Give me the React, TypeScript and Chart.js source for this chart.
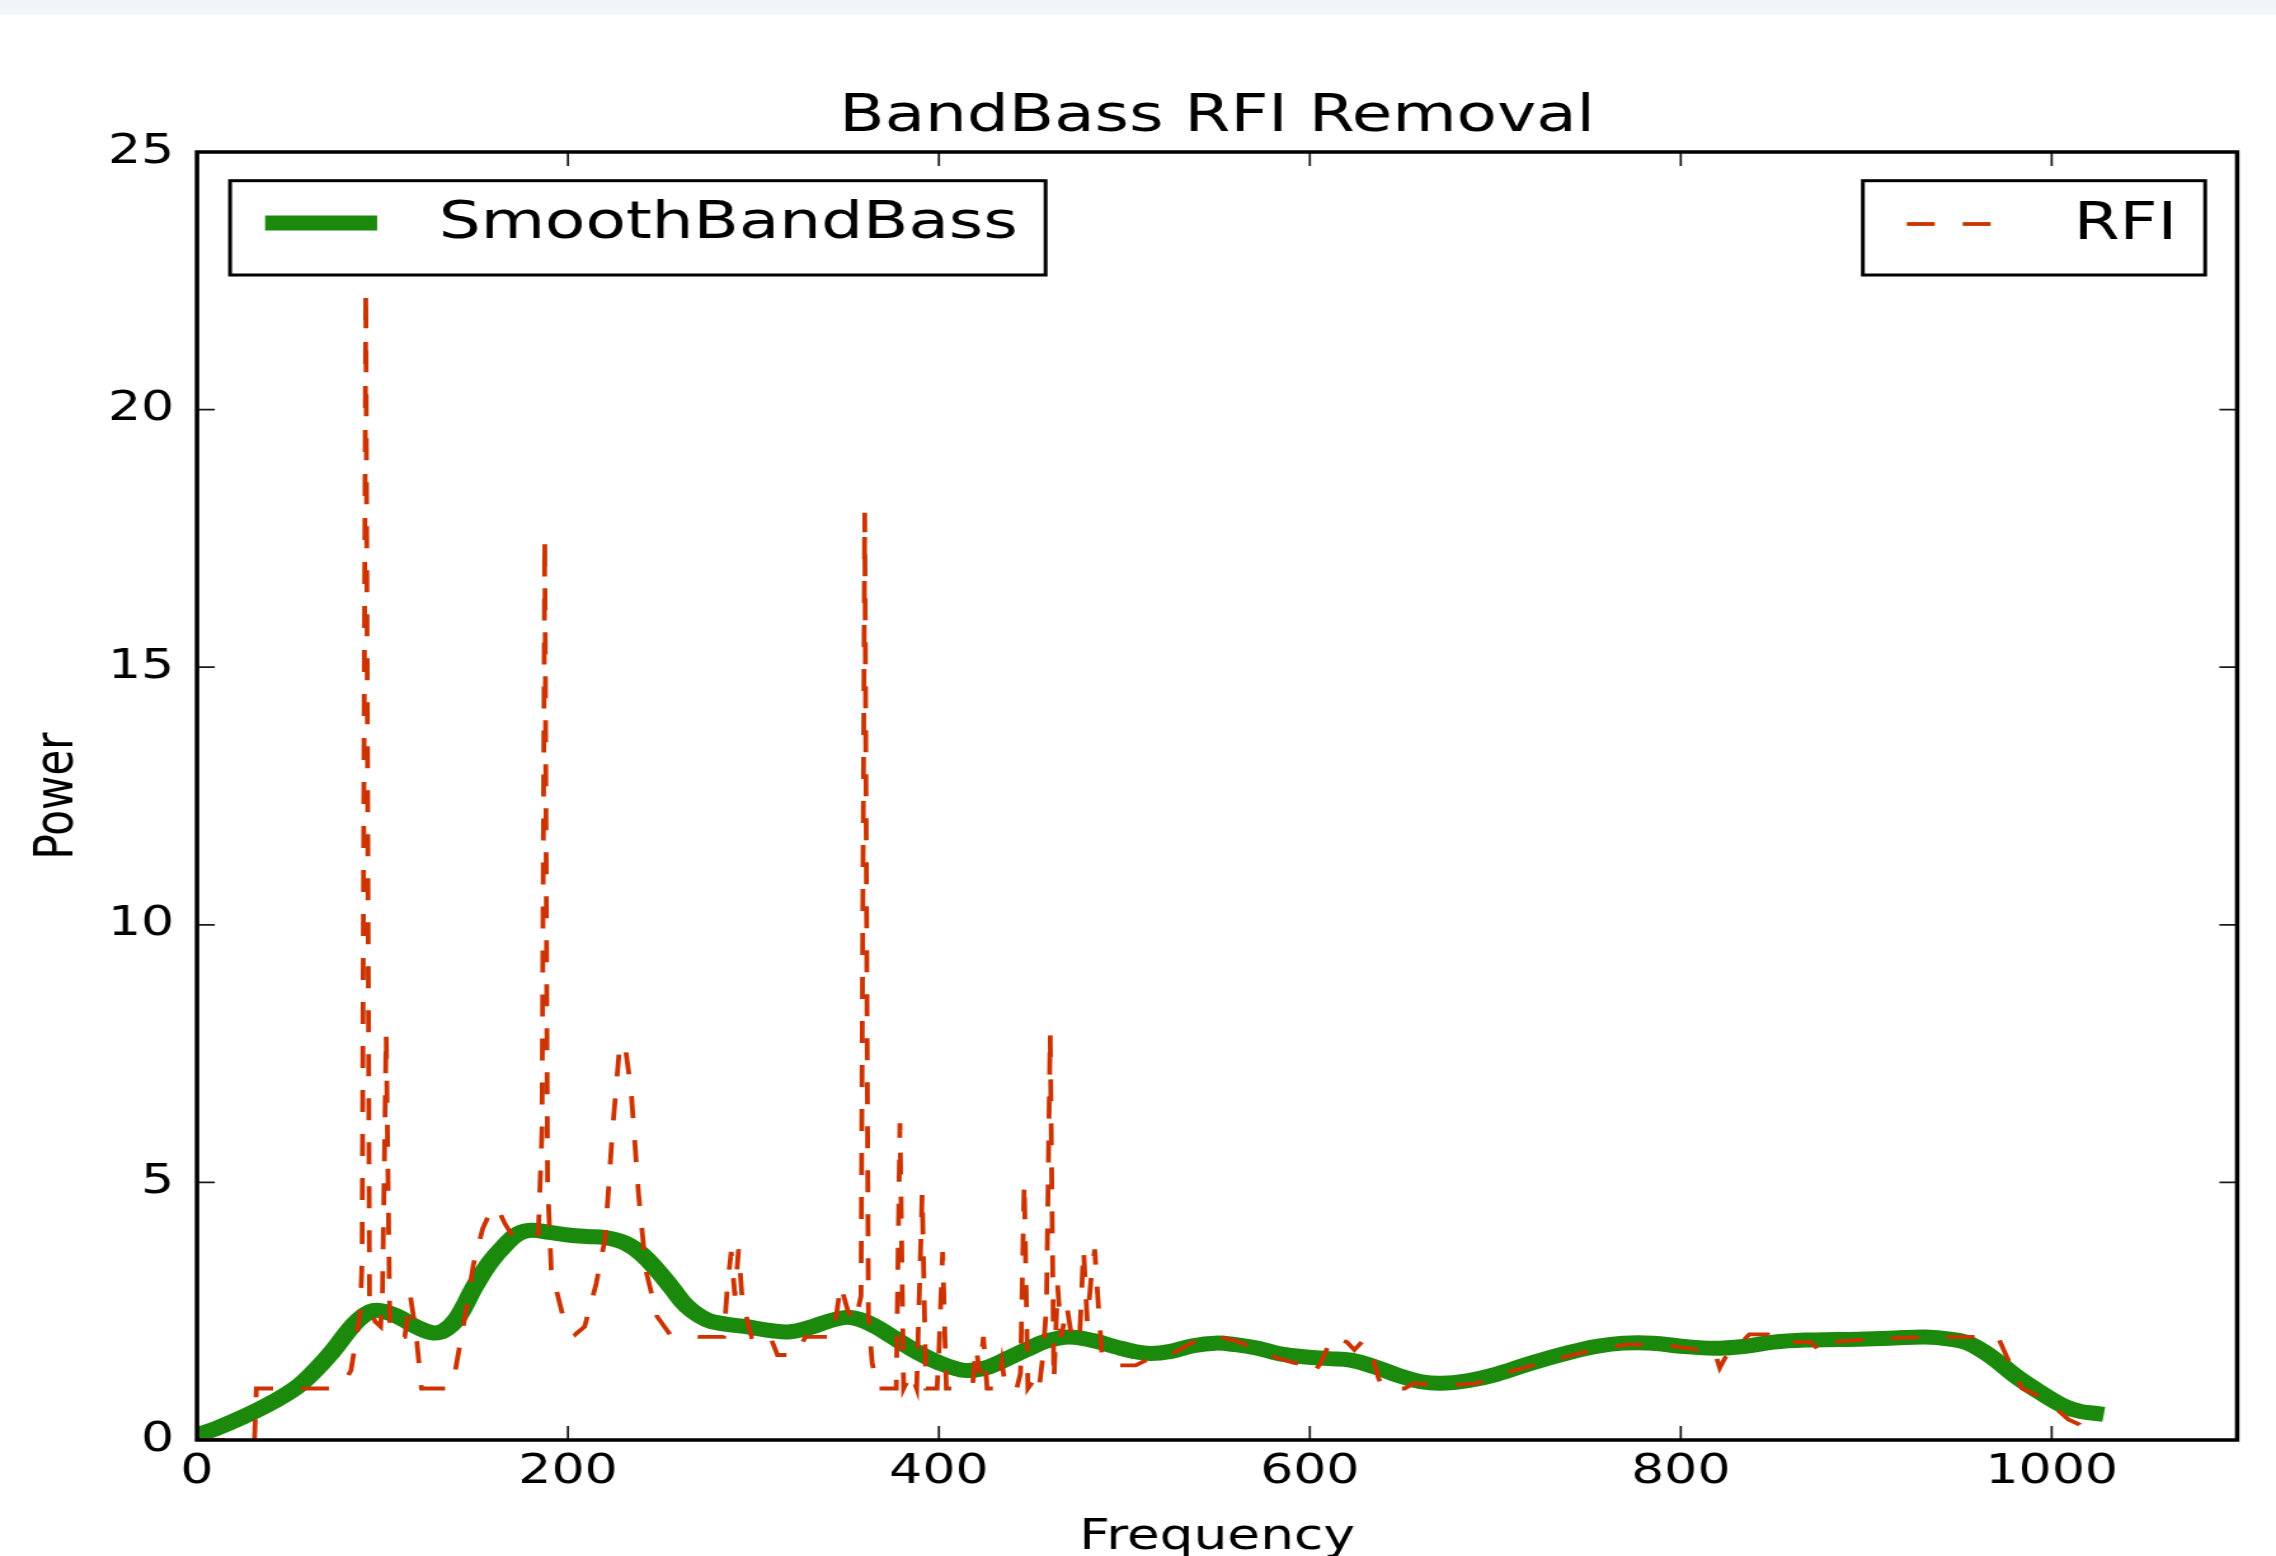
import React, { useEffect, useRef } from 'react';
import { Chart, registerables } from 'chart.js';

Chart.register(...registerables);

// ---------- text ----------
const CHART_TITLE = 'BandBass RFI Removal';
const X_LABEL = 'Frequency';
const Y_LABEL = 'Power';
const SERIES_SMOOTH = 'SmoothBandBass';
const SERIES_RFI = 'RFI';

// ---------- axes ----------
const X_MIN = 0;
const X_MAX = 1100;
const X_STEP = 200;
const Y_MIN = 0;
const Y_MAX = 25;
const Y_STEP = 5;

// ---------- data ----------
const smoothX = [0, 10, 25, 40, 54, 65, 73, 83, 90, 97, 108, 118, 127, 133, 140, 150, 158, 166, 173, 180, 190, 200, 210, 220, 231, 240, 248, 256, 264, 275, 285, 296, 310, 320, 330, 340, 350, 358, 366, 375, 389, 400, 412, 420, 427, 437, 447, 458, 470, 483, 495, 505, 514, 525, 537, 549, 560, 572, 583, 595, 610, 622, 635, 648, 660, 671, 685, 700, 720, 740, 755, 769, 785, 800, 818, 835, 850, 867, 885, 900, 915, 932, 945, 955, 968, 981, 994, 1007, 1016, 1023];
const smoothY = [0.1, 0.22, 0.45, 0.72, 1.03, 1.4, 1.72, 2.18, 2.42, 2.52, 2.4, 2.2, 2.08, 2.12, 2.35, 3.0, 3.45, 3.78, 4.0, 4.07, 4.03, 3.98, 3.95, 3.93, 3.82, 3.6, 3.3, 2.95, 2.6, 2.33, 2.25, 2.2, 2.12, 2.1, 2.18, 2.3, 2.38, 2.33, 2.2, 2.0, 1.69, 1.5, 1.36, 1.36, 1.42, 1.58, 1.75, 1.92, 2.0, 1.93, 1.81, 1.72, 1.68, 1.72, 1.83, 1.88, 1.85, 1.78, 1.68, 1.62, 1.58, 1.55, 1.42, 1.25, 1.13, 1.1, 1.15, 1.27, 1.5, 1.7, 1.82, 1.88, 1.88, 1.82, 1.78, 1.82, 1.9, 1.94, 1.95, 1.96, 1.98, 2.0, 1.96, 1.88, 1.6, 1.23, 0.92, 0.65, 0.55, 0.52];

const rfiX = [0, 31, 32, 73, 79, 83, 86, 88, 89, 91, 93, 96, 99, 100, 102, 104, 108, 112, 115, 118, 121, 135, 139, 144, 149, 154, 159, 162, 166, 171, 178, 184, 186, 187.5, 189, 191, 197, 204, 209, 215, 220, 224, 228, 231, 234, 238, 242, 248, 255, 270, 284, 286, 288, 290, 292, 294, 299, 308, 313, 323, 328, 343, 347, 351, 355, 358, 360, 362, 364, 367, 377, 379, 381, 385, 388, 391, 393, 399, 400, 402, 404, 412, 418, 420, 422, 424, 426, 432, 434, 436, 442, 444, 446, 448, 452, 454, 456, 458, 460, 462, 464, 466, 469, 472, 476, 478, 480, 482, 484, 486, 488, 495, 506, 512, 522, 532, 542, 552, 562, 572, 582, 591, 599, 602, 606, 612, 620, 624, 628, 632, 634, 637, 640, 651, 656, 670, 690, 710, 730, 750, 770, 790, 810, 818, 821, 824, 830, 837, 847, 852, 870, 876, 880, 900, 930, 950, 962, 971, 976, 984, 996, 1009, 1015, 1019, 1023];
const rfiY = [0, 0, 1.0, 1.0, 1.1, 1.35, 2.0, 2.5, 3.5, 22.3, 2.6, 2.3, 2.2, 2.9, 7.9, 2.1, 2.0, 2.0, 2.8, 2.1, 1.0, 1.0, 1.3, 2.3, 3.4, 4.1, 4.5, 4.5, 4.2, 3.9, 3.9, 4.0, 6.0, 17.5, 5.0, 3.3, 2.45, 2.05, 2.2, 3.0, 3.9, 6.0, 7.7, 7.6, 6.8, 4.8, 3.3, 2.4, 2.05, 2.0, 2.0, 3.0, 3.65, 2.8, 3.7, 2.7, 2.0, 2.1, 1.65, 1.65, 2.0, 2.0, 3.0, 2.5, 2.3, 2.8, 18.0, 2.4, 1.5, 1.0, 1.0, 6.15, 1.0, 1.3, 1.0, 4.8, 1.0, 1.0, 1.7, 3.65, 1.0, 1.0, 1.0, 1.8, 1.3, 2.0, 1.0, 1.0, 1.5, 1.0, 1.0, 1.3, 5.0, 1.0, 1.2, 1.0, 1.6, 2.6, 7.9, 1.15, 3.0, 2.0, 2.6, 1.9, 2.1, 3.7, 2.3, 3.1, 3.7, 2.6, 1.6, 1.45, 1.45, 1.55, 1.6, 1.8, 2.0, 2.0, 1.9, 1.75, 1.6, 1.5, 1.45, 1.3, 1.5, 2.0, 1.9, 1.75, 1.9, 1.85, 1.6, 1.2, 1.0, 1.0, 1.1, 1.05, 1.1, 1.35, 1.55, 1.72, 1.85, 1.85, 1.75, 1.75, 1.4, 1.6, 1.8, 2.05, 2.05, 1.9, 1.9, 1.7, 1.9, 1.95, 2.0, 2.0, 2.0, 2.0, 1.6, 1.0, 0.8, 0.4, 0.3, 0.0, 0.0];

// ---------- styling ----------
const PAGE_W = 2276;
const PAGE_H = 1556;
const STRETCH = 1.27; // the reference is horizontally stretched
const CANVAS_W = Math.round(PAGE_W / STRETCH);
const FONT = '"DejaVu Sans", "Liberation Sans", sans-serif';
const GREEN = '#1b8a0c';
const RED = '#cc3300';

const mplPlugin = {
  id: 'mplFrame',
  beforeDraw(chart: any) {
    const { ctx, width, height } = chart;
    ctx.save();
    ctx.fillStyle = '#ffffff';
    ctx.fillRect(0, 0, width, height);
    ctx.fillStyle = '#f1f4f9';
    ctx.fillRect(0, 0, width, 14.5);
    ctx.restore();
  },
  afterDatasetsDraw(chart: any) {
    const { ctx, chartArea: ca, scales } = chart;
    const xs = scales.x;
    const ys = scales.y;
    ctx.save();
    // inward ticks on all four sides
    ctx.strokeStyle = '#1a1a1a';
    ctx.lineWidth = 1.75;
    ctx.beginPath();
    for (const t of xs.ticks) {
      const px = xs.getPixelForValue(t.value);
      ctx.moveTo(px, ca.bottom);
      ctx.lineTo(px, ca.bottom - 14);
      ctx.moveTo(px, ca.top);
      ctx.lineTo(px, ca.top + 14);
    }
    for (const t of ys.ticks) {
      const py = ys.getPixelForValue(t.value);
      ctx.moveTo(ca.left, py);
      ctx.lineTo(ca.left + 14, py);
      ctx.moveTo(ca.right, py);
      ctx.lineTo(ca.right - 14, py);
    }
    ctx.stroke();
    // frame
    ctx.strokeStyle = '#000';
    ctx.lineWidth = 3.5;
    ctx.strokeRect(ca.left, ca.top, ca.right - ca.left, ca.bottom - ca.top);

    // two legends (matplotlib style)
    const ds = chart.data.datasets;
    const boxTop = ca.top + 28.7;
    const boxH = 94.3;
    ctx.font = `52px ${FONT}`;
    ctx.textBaseline = 'alphabetic';
    ctx.textAlign = 'left';

    // left legend: smooth
    const lx = ca.left + 26;
    ctx.fillStyle = '#fff';
    ctx.fillRect(lx, boxTop, 642.1, boxH);
    ctx.strokeStyle = '#000';
    ctx.lineWidth = 3;
    ctx.strokeRect(lx, boxTop, 642.1, boxH);
    ctx.strokeStyle = ds[0].borderColor;
    ctx.lineWidth = ds[0].borderWidth;
    ctx.lineCap = 'butt';
    ctx.beginPath();
    ctx.moveTo(ca.left + 53.6, ca.top + 71);
    ctx.lineTo(ca.left + 141.8, ca.top + 71);
    ctx.stroke();
    ctx.fillStyle = '#000';
    ctx.fillText(ds[0].label, ca.left + 190.3, ca.top + 86);

    // right legend: RFI
    const rx = ca.right - 294.7;
    ctx.fillStyle = '#fff';
    ctx.fillRect(rx, boxTop, 269.5, boxH);
    ctx.strokeStyle = '#000';
    ctx.lineWidth = 3;
    ctx.strokeRect(rx, boxTop, 269.5, boxH);
    ctx.strokeStyle = ds[1].borderColor;
    ctx.lineWidth = ds[1].borderWidth;
    ctx.setLineDash(ds[1].borderDash);
    ctx.beginPath();
    ctx.moveTo(ca.right - 260.1, ca.top + 72);
    ctx.lineTo(ca.right - 194.1, ca.top + 72);
    ctx.stroke();
    ctx.setLineDash([]);
    ctx.fillStyle = '#000';
    ctx.fillText(ds[1].label, ca.right - 128.7, ca.top + 87);
    ctx.restore();
  },
};

export default function App() {
  const ref = useRef<HTMLCanvasElement>(null);

  useEffect(() => {
    if (!ref.current) return;
    const chart = new Chart(ref.current, {
      type: 'line',
      data: {
        datasets: [
          {
            label: SERIES_SMOOTH,
            data: smoothX.map((x, i) => ({ x, y: smoothY[i] })),
            borderColor: GREEN,
            backgroundColor: GREEN,
            borderWidth: 15,
            pointRadius: 0,
            tension: 0.4,
            borderCapStyle: 'square',
            borderJoinStyle: 'round',
            fill: false,
            clip: 0,
            order: 1,
          } as any,
          {
            label: SERIES_RFI,
            data: rfiX.map((x, i) => ({ x, y: rfiY[i] })),
            borderColor: RED,
            backgroundColor: RED,
            borderWidth: 3.8,
            borderDash: [22, 22],
            pointRadius: 0,
            tension: 0,
            borderJoinStyle: 'miter',
            fill: false,
            clip: 0,
            order: 0,
          } as any,
        ],
      },
      options: {
        responsive: false,
        devicePixelRatio: 1,
        animation: false,
        events: [],
        layout: { padding: { left: 0, right: CANVAS_W - 2237 / STRETCH, top: 0, bottom: 0 } },
        plugins: {
          legend: { display: false },
          tooltip: { enabled: false },
          title: {
            display: true,
            text: CHART_TITLE,
            color: '#000',
            fullSize: false,
            font: { family: FONT, size: 52, weight: 'normal', lineHeight: 1 },
            padding: { top: 91, bottom: 9 },
          },
        },
        scales: {
          x: {
            type: 'linear',
            min: X_MIN,
            max: X_MAX,
            grid: { display: false, drawTicks: false },
            border: { display: false },
            ticks: {
              stepSize: X_STEP,
              includeBounds: false,
              color: '#000',
              padding: 11.5,
              maxRotation: 0,
              autoSkip: false,
              font: { family: FONT, size: 41, lineHeight: 1 },
              callback: (v: any) => String(v),
            },
            title: {
              display: true,
              text: X_LABEL,
              color: '#000',
              font: { family: FONT, size: 42, lineHeight: 1 },
              padding: { top: 0, bottom: -3 },
            },
            afterFit: (s: any) => {
              s.height = PAGE_H - 1440;
            },
          },
          y: {
            type: 'linear',
            min: Y_MIN,
            max: Y_MAX,
            grid: { display: false, drawTicks: false },
            border: { display: false },
            ticks: {
              stepSize: Y_STEP,
              color: '#000',
              padding: 18,
              font: { family: FONT, size: 41, lineHeight: 1 },
              callback: (v: any) => String(v),
            },
            title: {
              display: true,
              text: Y_LABEL,
              color: '#000',
              font: { family: FONT, size: 42, lineHeight: 1 },
              padding: { top: 25, bottom: 0 },
            },
            afterFit: (s: any) => {
              s.width = 197 / STRETCH;
            },
          },
        },
      } as any,
      plugins: [mplPlugin],
    });
    return () => chart.destroy();
  }, []);

  return (
    <div style={{ position: 'fixed', left: 0, top: 0, width: PAGE_W, height: PAGE_H, background: '#fff', overflow: 'hidden' }}>
      <canvas
        ref={ref}
        width={CANVAS_W}
        height={PAGE_H}
        style={{ width: `${PAGE_W}px`, height: `${PAGE_H}px`, display: 'block' }}
      />
    </div>
  );
}
